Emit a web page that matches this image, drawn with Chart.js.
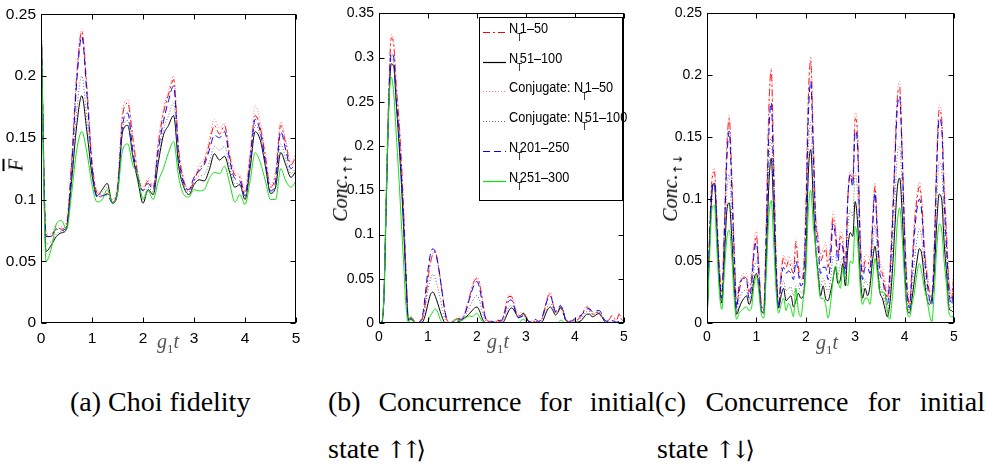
<!DOCTYPE html>
<html>
<head>
<meta charset="utf-8">
<script src="https://cdn.jsdelivr.net/npm/chart.js@4.4.1/dist/chart.umd.min.js"></script>
<style>
  html, body { margin:0; padding:0; background:#fff; }
  body { width:990px; height:471px; position:relative; overflow:hidden; }
  canvas { position:absolute; top:0; }
  .cap { position:absolute; font: 28px/46px "Liberation Serif", "DejaVu Serif", serif; color:#000; white-space:nowrap; }
  .just { text-align: justify; text-align-last: justify; white-space: normal; }
  .arr { font-family: "DejaVu Serif", "DejaVu Sans", serif; font-size: 24px; color:#000; letter-spacing: -5px; }
  .ylab { position:absolute; transform: translate(-50%,-50%) rotate(-90deg); font: 20px "Liberation Serif", "DejaVu Serif", serif; color:#000; white-space:nowrap; }
  .ylab sub { font-size: 12px; font-style: normal; font-family: "DejaVu Sans", sans-serif; color:#000; }
  .xlab { position:absolute; transform: translate(-50%,-50%); font: 20px "Liberation Serif", "DejaVu Serif", serif; color:#555; white-space:nowrap; }
  .xlab sub { font-size: 13px; }
</style>
</head>
<body>
<canvas id="ca" width="330" height="370" style="left:0px"></canvas>
<canvas id="cb" width="330" height="370" style="left:330px"></canvas>
<canvas id="cc" width="330" height="370" style="left:660px"></canvas>

<div class="ylab" style="left:16px;top:165px"><i style="text-decoration:overline">F</i></div>
<div class="ylab" style="left:342px;top:188px"><i>Conc.</i><sub>↑↑</sub></div>
<div class="ylab" style="left:672px;top:188px"><i>Conc.</i><sub>↑↓</sub></div>
<div class="xlab" style="left:168px;top:343px"><i>g</i><sub>1</sub><i>t</i></div>
<div class="xlab" style="left:498px;top:343px"><i>g</i><sub>1</sub><i>t</i></div>
<div class="xlab" style="left:827px;top:344px"><i>g</i><sub>1</sub><i>t</i></div>

<div class="cap" style="left:70px;top:379px">(a) Choi fidelity</div>
<div class="cap just" style="left:328px;top:379px;width:327px">(b) Concurrence for initial</div>
<div class="cap" style="left:328px;top:426px">state <span class="arr">↑↑⟩</span></div>
<div class="cap just" style="left:655px;top:379px;width:330px">(c) Concurrence for initial</div>
<div class="cap" style="left:657px;top:426px">state <span class="arr">↑↓⟩</span></div>

<script>
// ---------- DATA ----------
const seriesLabels = ['N_T1–50', 'N_T51–100', 'Conjugate: N_T1–50', 'Conjugate: N_T51–100', 'N_T201–250', 'N_T251–300'];
const xTicks = [0, 1, 2, 3, 4, 5];

// Panel (a): Choi fidelity, g1t grid step 0.1
const tA = [0,0.1,0.2,0.3,0.4,0.5,0.6,0.7,0.8,0.9,1,1.1,1.2,1.3,1.4,1.5,1.6,1.7,1.8,1.9,2,2.1,2.2,2.3,2.4,2.5,2.6,2.7,2.8,2.9,3,3.1,3.2,3.3,3.4,3.5,3.6,3.7,3.8,3.9,4,4.1,4.2,4.3,4.4,4.5,4.6,4.7,4.8,4.9,5];
const fidN1_50 = [0.25,0.072,0.07,0.078,0.076,0.08,0.13,0.2,0.236,0.19, 0.13,0.105,0.102,0.105,0.098,0.11,0.168,0.178,0.15,0.12, 0.108,0.115,0.11,0.145,0.17,0.185,0.197,0.14,0.115,0.107, 0.115,0.125,0.13,0.145,0.16,0.153,0.16,0.135,0.12,0.118, 0.105,0.135,0.168,0.158,0.135,0.11,0.12,0.16,0.145,0.128, 0.135];
const fidN51_100 = [0.25,0.058,0.063,0.07,0.073,0.076,0.115,0.16,0.184,0.155, 0.12,0.103,0.108,0.113,0.097,0.105,0.155,0.16,0.135,0.115, 0.097,0.108,0.104,0.13,0.152,0.16,0.168,0.127,0.11,0.104, 0.112,0.116,0.115,0.124,0.137,0.132,0.135,0.122,0.11,0.112, 0.1,0.125,0.155,0.148,0.127,0.105,0.11,0.138,0.128,0.118, 0.123];
const fidConjN1_50 = [0.25,0.074,0.072,0.08,0.078,0.082,0.133,0.203,0.238,0.193, 0.133,0.107,0.104,0.107,0.1,0.113,0.172,0.181,0.153,0.123, 0.11,0.117,0.112,0.148,0.173,0.188,0.2,0.143,0.117,0.109, 0.117,0.128,0.133,0.149,0.165,0.158,0.162,0.138,0.122,0.12, 0.107,0.139,0.176,0.163,0.138,0.112,0.123,0.163,0.148,0.13, 0.138];
const fidConjN51_100 = [0.25,0.064,0.066,0.072,0.074,0.077,0.118,0.172,0.2,0.165, 0.123,0.103,0.106,0.11,0.097,0.106,0.157,0.164,0.137,0.116, 0.101,0.11,0.106,0.134,0.156,0.168,0.178,0.13,0.111,0.106, 0.115,0.119,0.12,0.13,0.143,0.14,0.143,0.126,0.113,0.113, 0.101,0.127,0.16,0.152,0.128,0.106,0.112,0.145,0.133,0.121, 0.126];
const fidN201_250 = [0.25,0.07,0.07,0.076,0.075,0.078,0.125,0.195,0.232,0.185, 0.127,0.102,0.103,0.104,0.097,0.107,0.16,0.17,0.14,0.118, 0.107,0.113,0.108,0.14,0.163,0.18,0.192,0.135,0.113,0.108, 0.118,0.123,0.128,0.14,0.152,0.15,0.155,0.132,0.117,0.115, 0.103,0.13,0.165,0.155,0.13,0.107,0.115,0.155,0.14,0.125, 0.13];
const fidN251_300 = [0.25,0.05,0.06,0.08,0.083,0.076,0.105,0.14,0.155,0.138, 0.112,0.098,0.1,0.108,0.097,0.105,0.14,0.145,0.128,0.12, 0.1,0.107,0.1,0.115,0.125,0.138,0.147,0.118,0.104,0.102, 0.108,0.107,0.108,0.117,0.122,0.121,0.127,0.113,0.098,0.104, 0.096,0.115,0.138,0.13,0.115,0.1,0.1,0.125,0.115,0.11, 0.115];

// Panels (b),(c): g1t grid step 0.05
const tF = [0,0.05,0.1,0.15,0.2,0.25,0.3,0.35,0.4,0.45,0.5,0.55,0.6,0.65,0.7,0.75,0.8,0.85,0.9,0.95,1,1.05,1.1,1.15,1.2,1.25,1.3,1.35,1.4,1.45,1.5,1.55,1.6,1.65,1.7,1.75,1.8,1.85,1.9,1.95,2,2.05,2.1,2.15,2.2,2.25,2.3,2.35,2.4,2.45,2.5,2.55,2.6,2.65,2.7,2.75,2.8,2.85,2.9,2.95,3,3.05,3.1,3.15,3.2,3.25,3.3,3.35,3.4,3.45,3.5,3.55,3.6,3.65,3.7,3.75,3.8,3.85,3.9,3.95,4,4.05,4.1,4.15,4.2,4.25,4.3,4.35,4.4,4.45,4.5,4.55,4.6,4.65,4.7,4.75,4.8,4.85,4.9,4.95,5];

// Panel (b): concurrence, initial state up-up
const uuN1_50 = [0,0,0.03,0.15,0.26,0.322,0.315,0.27,0.235,0.19, 0.13,0.06,0.005,0.006,0.004,0,0,0.002,0.008,0.025, 0.05,0.068,0.078,0.08,0.068,0.05,0.03,0.01,0.002,0, 0.001,0.003,0.005,0.005,0.006,0.01,0.02,0.03,0.04,0.048, 0.05,0.045,0.03,0.012,0.003,0.002,0.001,0,0.002,0.003, 0.002,0.01,0.022,0.03,0.03,0.022,0.012,0.008,0.01,0.01, 0.006,0.002,0.001,0.002,0.001,0.001,0.002,0.008,0.02,0.03, 0.033,0.022,0.012,0.012,0.017,0.012,0.004,0.002,0.001,0.002, 0.003,0.004,0.006,0.01,0.016,0.018,0.015,0.01,0.01,0.012, 0.01,0.006,0.003,0.002,0.004,0.008,0.005,0.003,0.01,0.004, 0.008];
const uuN51_100 = [0,0,0.028,0.14,0.245,0.293,0.29,0.25,0.21,0.165, 0.11,0.05,0.003,0.004,0.002,0,0,0,0.002,0.01, 0.022,0.032,0.035,0.03,0.022,0.013,0.005,0,0,0, 0,0,0.001,0.002,0.004,0.006,0.008,0.011,0.014,0.017, 0.018,0.014,0.006,0.001,0,0,0,0,0,0, 0,0.002,0.008,0.014,0.017,0.015,0.01,0.006,0.009,0.011, 0.007,0.002,0,0,0,0,0,0.003,0.01,0.016, 0.018,0.014,0.009,0.012,0.018,0.015,0.005,0.001,0,0, 0.001,0.001,0.002,0.004,0.008,0.01,0.01,0.007,0.008,0.01, 0.011,0.007,0.002,0,0,0,0,0,0,0, 0];
const uuConjN1_50 = [0,0,0.032,0.155,0.265,0.326,0.318,0.275,0.24,0.195, 0.135,0.065,0.008,0.008,0.005,0.001,0.001,0.003,0.01,0.027, 0.052,0.07,0.08,0.082,0.07,0.052,0.032,0.012,0.003,0.001, 0.002,0.004,0.006,0.007,0.008,0.012,0.022,0.032,0.042,0.05, 0.052,0.047,0.032,0.014,0.004,0.003,0.002,0.001,0.003,0.004, 0.003,0.012,0.024,0.032,0.032,0.024,0.014,0.01,0.012,0.012, 0.008,0.003,0.002,0.003,0.002,0.002,0.003,0.01,0.022,0.032, 0.035,0.024,0.014,0.014,0.019,0.014,0.005,0.003,0.002,0.003, 0.004,0.005,0.007,0.011,0.017,0.019,0.016,0.011,0.011,0.013, 0.011,0.007,0.004,0.003,0.005,0.009,0.006,0.004,0.011,0.005, 0.009];
const uuConjN51_100 = [0,0,0.028,0.14,0.247,0.298,0.294,0.252,0.214,0.17, 0.115,0.052,0.003,0.004,0.002,0,0,0.001,0.006,0.02, 0.038,0.05,0.055,0.05,0.04,0.028,0.014,0.004,0,0, 0,0.001,0.002,0.003,0.004,0.008,0.012,0.018,0.024,0.029, 0.031,0.026,0.014,0.005,0.001,0,0.001,0,0,0.001, 0.001,0.004,0.012,0.018,0.02,0.017,0.01,0.006,0.008,0.009, 0.006,0.002,0,0.001,0.002,0.001,0.001,0.006,0.014,0.02, 0.022,0.017,0.011,0.013,0.019,0.015,0.005,0.001,0.001,0.001, 0.003,0.003,0.005,0.007,0.011,0.013,0.013,0.01,0.01,0.012, 0.012,0.008,0.003,0.001,0.001,0.001,0.001,0,0.001,0.001, 0.001];
const uuN201_250 = [0,0,0.028,0.14,0.25,0.305,0.3,0.255,0.22,0.175, 0.12,0.055,0.004,0.005,0.003,0,0,0.003,0.012,0.035, 0.06,0.078,0.084,0.08,0.068,0.05,0.03,0.012,0.002,0, 0.001,0.002,0.003,0.004,0.005,0.01,0.018,0.028,0.037,0.044, 0.047,0.04,0.025,0.01,0.002,0.001,0.002,0.001,0.001,0.002, 0.003,0.008,0.018,0.025,0.026,0.02,0.01,0.006,0.007,0.008, 0.005,0.002,0.001,0.003,0.004,0.002,0.003,0.01,0.02,0.028, 0.03,0.022,0.013,0.015,0.02,0.015,0.005,0.002,0.002,0.003, 0.005,0.006,0.008,0.01,0.014,0.016,0.016,0.013,0.013,0.014, 0.014,0.01,0.004,0.002,0.002,0.003,0.002,0.001,0.002,0.003, 0.002];
const uuN251_300 = [0,0,0.03,0.15,0.245,0.278,0.26,0.215,0.17,0.12, 0.07,0.02,0.001,0.007,0.003,0,0,0,0,0, 0.002,0.008,0.013,0.016,0.012,0.004,0,0,0,0, 0.002,0.004,0.004,0.003,0.003,0.005,0.007,0.008,0.007,0.009, 0.011,0.007,0.002,0,0,0,0,0,0,0, 0,0,0,0,0,0,0,0,0.003,0.004, 0.002,0,0,0,0,0,0,0,0,0, 0,0,0,0,0.003,0.002,0,0,0,0, 0,0,0,0,0,0,0,0,0,0, 0.001,0,0,0,0,0,0,0,0,0, 0];

// Panel (c): concurrence, initial state up-down
const udN1_50 = [0,0.07,0.115,0.122,0.085,0.045,0.025,0.075,0.14,0.165, 0.12,0.06,0.015,0.025,0.035,0.037,0.036,0.025,0.035,0.06, 0.07,0.045,0.015,0.012,0.08,0.17,0.204,0.13,0.05,0.015, 0.04,0.052,0.045,0.05,0.045,0.04,0.065,0.045,0.035,0.04, 0.09,0.18,0.212,0.15,0.085,0.068,0.05,0.055,0.06,0.045, 0.06,0.085,0.075,0.055,0.07,0.065,0.045,0.1,0.12,0.115, 0.165,0.15,0.07,0.04,0.05,0.05,0.045,0.08,0.11,0.075, 0.045,0.04,0.03,0.02,0.04,0.08,0.13,0.18,0.19,0.14, 0.075,0.03,0.015,0.045,0.08,0.1,0.11,0.095,0.06,0.04, 0.025,0.02,0.06,0.13,0.172,0.165,0.11,0.07,0.03,0.02, 0.04];
const udN51_100 = [0,0.06,0.105,0.113,0.075,0.035,0.016,0.05,0.09,0.097, 0.07,0.03,0.007,0.012,0.017,0.02,0.022,0.015,0.02,0.035, 0.04,0.03,0.01,0.008,0.05,0.11,0.133,0.09,0.035,0.012, 0.022,0.028,0.018,0.02,0.022,0.013,0.018,0.024,0.02,0.022, 0.05,0.12,0.14,0.1,0.06,0.04,0.022,0.03,0.02,0.018, 0.025,0.035,0.045,0.032,0.035,0.048,0.03,0.06,0.073,0.07, 0.098,0.08,0.04,0.02,0.028,0.022,0.03,0.05,0.062,0.045, 0.025,0.02,0.012,0.005,0.015,0.04,0.075,0.108,0.117,0.09, 0.045,0.012,0.008,0.02,0.035,0.05,0.06,0.055,0.035,0.02, 0.015,0.02,0.04,0.08,0.104,0.1,0.065,0.04,0.012,0.01, 0.008];
const udConjN1_50 = [0,0.072,0.118,0.125,0.088,0.05,0.03,0.08,0.143,0.168, 0.124,0.065,0.02,0.03,0.038,0.04,0.04,0.03,0.04,0.065, 0.075,0.05,0.02,0.018,0.085,0.172,0.206,0.135,0.055,0.02, 0.045,0.055,0.05,0.054,0.05,0.045,0.068,0.05,0.04,0.045, 0.095,0.183,0.215,0.155,0.09,0.072,0.055,0.06,0.065,0.05, 0.065,0.09,0.08,0.06,0.074,0.07,0.05,0.105,0.123,0.118, 0.17,0.154,0.075,0.045,0.055,0.055,0.05,0.085,0.113,0.08, 0.05,0.045,0.035,0.025,0.045,0.085,0.135,0.183,0.195,0.145, 0.08,0.035,0.02,0.05,0.085,0.104,0.114,0.1,0.065,0.045, 0.03,0.025,0.065,0.135,0.176,0.168,0.115,0.075,0.035,0.025, 0.045];
const udConjN51_100 = [0,0.062,0.106,0.113,0.077,0.037,0.018,0.057,0.105,0.12, 0.085,0.04,0.009,0.018,0.024,0.026,0.027,0.017,0.024,0.043, 0.05,0.034,0.011,0.009,0.058,0.125,0.15,0.1,0.039,0.012, 0.027,0.034,0.026,0.028,0.029,0.022,0.03,0.03,0.024,0.027, 0.062,0.138,0.162,0.115,0.068,0.048,0.029,0.036,0.03,0.025, 0.035,0.053,0.055,0.039,0.047,0.053,0.034,0.076,0.091,0.086, 0.121,0.103,0.05,0.026,0.035,0.031,0.034,0.06,0.079,0.055, 0.031,0.026,0.017,0.009,0.023,0.055,0.095,0.134,0.143,0.108, 0.055,0.017,0.01,0.028,0.05,0.067,0.076,0.068,0.043,0.026, 0.017,0.018,0.046,0.098,0.13,0.124,0.08,0.048,0.017,0.012, 0.02];
const udN201_250 = [0,0.065,0.108,0.113,0.08,0.04,0.02,0.07,0.13,0.155, 0.11,0.055,0.012,0.03,0.035,0.036,0.035,0.02,0.03,0.055, 0.065,0.04,0.012,0.01,0.07,0.15,0.178,0.115,0.045,0.012, 0.035,0.045,0.04,0.042,0.04,0.035,0.05,0.04,0.03,0.035, 0.08,0.165,0.195,0.14,0.08,0.06,0.04,0.045,0.045,0.035, 0.05,0.08,0.07,0.05,0.065,0.06,0.04,0.1,0.12,0.11, 0.155,0.14,0.065,0.035,0.045,0.045,0.04,0.075,0.105,0.07, 0.04,0.035,0.025,0.015,0.035,0.075,0.125,0.172,0.183,0.135, 0.07,0.025,0.012,0.04,0.072,0.092,0.1,0.088,0.055,0.035, 0.02,0.015,0.055,0.125,0.165,0.158,0.1,0.06,0.025,0.015, 0.035];
const udN251_300 = [0,0.05,0.092,0.095,0.06,0.025,0.011,0.04,0.068,0.075, 0.055,0.02,0.003,0.008,0.01,0.012,0.013,0.01,0.012,0.03, 0.038,0.025,0.007,0.004,0.04,0.085,0.099,0.065,0.025,0.008, 0.015,0.02,0.01,0.016,0.012,0.005,0.028,0.01,0.005,0.02, 0.04,0.09,0.107,0.08,0.06,0.035,0.02,0.02,0.015,0.004, 0.015,0.035,0.046,0.035,0.028,0.045,0.035,0.03,0.05,0.048, 0.078,0.065,0.03,0.015,0.02,0.02,0.015,0.035,0.052,0.04, 0.025,0.025,0.024,0.01,0.003,0.02,0.045,0.08,0.093,0.07, 0.035,0.01,0.005,0.015,0.025,0.04,0.048,0.04,0.028,0.02, 0.008,0.001,0.025,0.06,0.08,0.075,0.05,0.03,0.008,0.005, 0.005];

// ---------- STYLES ----------
const lineStyles = [
  { color: '#ff0000', dash: [7, 3, 2, 3] },
  { color: '#000000', dash: [] },
  { color: '#ff7a7a', dash: [1, 2] },
  { color: '#6a6a6a', dash: [1, 2] },
  { color: '#0000ff', dash: [7, 4] },
  { color: '#12e012', dash: [] }
];
const SANS = '"Liberation Sans", Arial, Helvetica, sans-serif';

// inside tick marks + box (MATLAB style)
const boxTicks = {
  id: 'boxTicks',
  afterDraw(chart) {
    const { ctx, chartArea: a, scales: { x, y } } = chart;
    const L = Math.round(a.left) + 0.5, R = Math.round(a.right) - 0.5;
    const T = Math.round(a.top) + 0.5, B = Math.round(a.bottom) - 0.5;
    const len = 5;
    ctx.save();
    ctx.strokeStyle = '#000';
    ctx.lineWidth = 1;
    ctx.setLineDash([]);
    ctx.beginPath();
    x.ticks.forEach(t => {
      const px = Math.round(x.getPixelForValue(t.value)) + 0.5;
      ctx.moveTo(px, B); ctx.lineTo(px, B - len);
      ctx.moveTo(px, T); ctx.lineTo(px, T + len);
    });
    y.ticks.forEach(t => {
      const py = Math.round(y.getPixelForValue(t.value)) + 0.5;
      ctx.moveTo(L, py); ctx.lineTo(L + len, py);
      ctx.moveTo(R, py); ctx.lineTo(R - len, py);
    });
    ctx.stroke();
    ctx.strokeRect(L, T, R - L, B - T);
    ctx.restore();
  }
};

// boxed legend with subscript T (panel b)
const boxLegend = {
  id: 'boxLegend',
  afterDraw(chart) {
    const ctx = chart.ctx;
    const L = 149, T = 17, R = 292, B = 200;
    ctx.save();
    ctx.fillStyle = '#fff';
    ctx.fillRect(L, T, R - L, B - T);
    ctx.strokeStyle = '#000';
    ctx.lineWidth = 1;
    ctx.setLineDash([]);
    ctx.strokeRect(L + 0.5, T + 0.5, R - L, B - T);
    chart.data.datasets.forEach((ds, i) => {
      const yy = Math.round(32 + i * 29.7) + 0.5;
      ctx.save();
      ctx.beginPath();
      ctx.setLineDash(ds.borderDash || []);
      ctx.strokeStyle = ds.borderColor;
      ctx.lineWidth = 1.2;
      ctx.moveTo(153, yy); ctx.lineTo(176, yy);
      ctx.stroke();
      ctx.restore();
      const parts = ds.label.split('_T');
      ctx.save();
      ctx.translate(179, yy);
      ctx.scale(0.82, 1);
      ctx.fillStyle = '#000';
      ctx.textBaseline = 'alphabetic';
      ctx.font = '15.5px ' + SANS;
      ctx.fillText(parts[0], 0, 0);
      const w = ctx.measureText(parts[0]).width;
      ctx.font = '10.5px ' + SANS;
      ctx.fillText('T', w - 1.5, 8);
      ctx.font = '15.5px ' + SANS;
      ctx.fillText(parts[1], w + 2, 0);
      ctx.restore();
    });
    ctx.restore();
  }
};

function makePanel(id, xs, ys, yMax, yAxisWidth, rightPad, fontSize, withLegend) {
  const datasets = seriesLabels.map((lab, i) => ({
    label: lab,
    data: xs.map((x, j) => ({ x: x, y: ys[i][j] })),
    borderColor: lineStyles[i].color,
    borderDash: lineStyles[i].dash,
    borderWidth: 1,
    pointRadius: 0,
    fill: false,
    cubicInterpolationMode: 'monotone',
    order: 5 - i
  }));
  const plugins = [boxTicks];
  if (withLegend) plugins.push(boxLegend);
  return new Chart(document.getElementById(id), {
    type: 'line',
    data: { datasets },
    plugins,
    options: {
      responsive: false,
      animation: false,
      devicePixelRatio: 1,
      layout: { padding: { top: 11, right: rightPad, left: 0, bottom: 0 } },
      plugins: { legend: { display: false }, tooltip: { enabled: false } },
      scales: {
        x: {
          type: 'linear', min: 0, max: 5,
          afterBuildTicks: s => { s.ticks = xTicks.map(v => ({ value: v })); },
          ticks: { font: { family: SANS, size: fontSize }, color: '#000', padding: 6, maxRotation: 0,
                   callback: v => String(v) },
          grid: { display: false, drawTicks: false },
          border: { display: false },
          afterFit: s => { s.height = 47; }
        },
        y: {
          type: 'linear', min: 0, max: yMax,
          ticks: { stepSize: 0.05, font: { family: SANS, size: fontSize }, color: '#000', padding: 5,
                   callback: v => String(Math.round(v * 100) / 100) },
          grid: { display: false, drawTicks: false },
          border: { display: false },
          afterFit: s => { s.width = yAxisWidth; }
        }
      }
    }
  });
}

makePanel('ca', tA, [fidN1_50, fidN51_100, fidConjN1_50, fidConjN51_100, fidN201_250, fidN251_300], 0.25, 41, 34, 15.5, false);
makePanel('cb', tF, [uuN1_50, uuN51_100, uuConjN1_50, uuConjN51_100, uuN201_250, uuN251_300], 0.35, 49, 36, 14, true);
makePanel('cc', tF, [udN1_50, udN51_100, udConjN1_50, udConjN51_100, udN201_250, udN251_300], 0.25, 47, 36, 14, false);
</script>
</body>
</html>
